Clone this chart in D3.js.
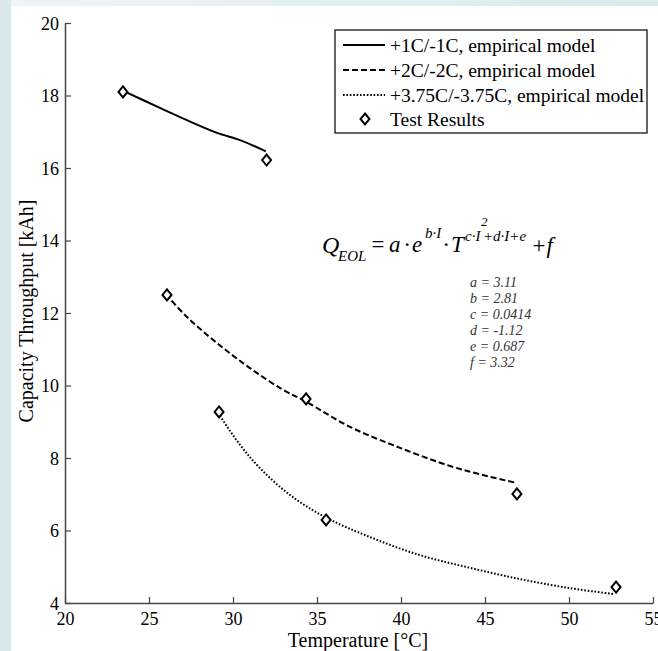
<!DOCTYPE html>
<html><head><meta charset="utf-8">
<script src="https://cdn.jsdelivr.net/npm/d3@7"></script>
<style>
html,body{margin:0;padding:0;background:#fff;}
svg{display:block;}
text{font-family:"Liberation Serif","Times New Roman",serif;}
</style></head>
<body>
<svg id="chart" width="658" height="651"></svg>
<script>
// ---- data ----
const xTicks = [20,25,30,35,40,45,50,55];
const yTicks = [4,6,8,10,12,14,16,18,20];
const model1C = [[23.5,18.12],[25.65,17.66],[27.26,17.32],[29.05,16.97],[30.42,16.77],[31.95,16.46]];
const model2C = [[26.0,12.52],[27.26,11.89],[29.05,11.17],[31.01,10.48],[32.98,9.88],[34.29,9.57],[36.96,8.86],[39.94,8.28],[42.92,7.78],[44.88,7.53],[46.9,7.31]];
const model375C = [[29.11,9.24],[30.42,8.36],[31.61,7.72],[33.39,6.98],[35.48,6.37],[38.15,5.82],[41.13,5.32],[44.11,4.97],[47.08,4.66],[50.06,4.41],[52.62,4.25]];
const testTemps = [23.45,32.0,26.07,34.35,46.9,29.17,35.54,52.8];
const testValues = [18.1,16.22,12.5,9.63,7.01,9.27,6.29,4.44];
const legendLabels = ["+1C/-1C, empirical model","+2C/-2C, empirical model","+3.75C/-3.75C, empirical model","Test Results"];
const paramLabels = ["a = 3.11","b = 2.81","c = 0.0414","d = -1.12","e = 0.687","f = 3.32"];
const xTitle = "Temperature [°C]";
const yTitle = "Capacity Throughput [kAh]";

const svg = d3.select("#chart");
// background decoration
const defs = svg.append("defs");
const g1 = defs.append("linearGradient").attr("id","topg").attr("x1","0").attr("x2","1");
g1.append("stop").attr("offset","0").attr("stop-color","#eef5f7");
g1.append("stop").attr("offset","1").attr("stop-color","#d9e9ee");
svg.append("rect").attr("x",0).attr("y",0).attr("width",658).attr("height",651).attr("fill","#fff");
svg.append("rect").attr("x",0).attr("y",0).attr("width",658).attr("height",6).attr("fill","url(#topg)");
svg.append("rect").attr("x",0).attr("y",0).attr("width",11).attr("height",651).attr("fill","#d9e9ee");

const x = d3.scaleLinear().domain([20,55]).range([65,653]);
const y = d3.scaleLinear().domain([4,20]).range([603,23]);

const axisColor = "#444";
const xAxis = svg.append("g").attr("transform","translate(0,603)")
  .call(d3.axisBottom(x).tickValues(xTicks).tickSizeInner(-6).tickSizeOuter(0).tickPadding(6).tickFormat(d3.format("d")));
const yAxis = svg.append("g").attr("transform","translate(65,0)")
  .call(d3.axisLeft(y).tickValues(yTicks).tickSizeInner(-6).tickSizeOuter(0).tickPadding(6).tickFormat(d3.format("d")));
[xAxis,yAxis].forEach(a=>{
  a.select(".domain").attr("stroke",axisColor).attr("stroke-width",1.5);
  a.selectAll(".tick line").attr("stroke",axisColor).attr("stroke-width",1.2);
  a.selectAll(".tick text").attr("fill","#000").style("font-size","18px").style("font-family","'Liberation Serif',serif");
});
xAxis.selectAll(".tick text").attr("dy","0.9em");
yAxis.selectAll(".tick text").attr("dy","0.35em");

// axis titles
svg.append("text").attr("x",358).attr("y",647).attr("text-anchor","middle")
  .style("font-size","20px").text(xTitle);
svg.append("text").attr("transform","translate(33,311) rotate(-90)").attr("text-anchor","middle")
  .style("font-size","20px").text(yTitle);

// model lines
const line = d3.line().x(d=>x(d[0])).y(d=>y(d[1])).curve(d3.curveCatmullRom);
const styles = [
  {data:model1C, dash:null, w:2},
  {data:model2C, dash:"6,3", w:2},
  {data:model375C, dash:"1.6,1.8", w:2}
];
styles.forEach(s=>{
  svg.append("path").datum(s.data).attr("d",line).attr("fill","none")
    .attr("stroke","#000").attr("stroke-width",s.w).attr("stroke-dasharray",s.dash);
});

// diamonds
const diamond = (cx,cy)=>`M${cx},${cy-5.5}L${cx+4.5},${cy}L${cx},${cy+5.5}L${cx-4.5},${cy}Z`;
svg.append("g").selectAll("path").data(testTemps.map((t,i)=>[t,testValues[i]])).join("path")
  .attr("d",d=>diamond(x(d[0]),y(d[1]))).attr("fill","#fff").attr("stroke","#000").attr("stroke-width",2);

// legend
const lg = svg.append("g");
lg.append("rect").attr("x",335).attr("y",30).attr("width",312).attr("height",103)
  .attr("fill","#fff").attr("stroke","#000").attr("stroke-width",1.2);
const rowsY = [45,70,95,119];
legendLabels.forEach((lab,i)=>{
  if(i<3){
    lg.append("line").attr("x1",343).attr("x2",385).attr("y1",rowsY[i]).attr("y2",rowsY[i])
      .attr("stroke","#000").attr("stroke-width",2).attr("stroke-dasharray",styles[i].dash);
  } else {
    lg.append("path").attr("d",diamond(365,rowsY[i])).attr("fill","#fff").attr("stroke","#000").attr("stroke-width",2);
  }
  lg.append("text").attr("x",390).attr("y",rowsY[i]).attr("dy","0.35em")
    .style("font-size","19.5px").text(lab);
});

// equation
const eqParts = [
  {t:"Q", x:322, y:253, s:24},
  {t:"EOL", x:338, y:261, s:15},
  {t:"=", x:370, y:252, s:23},
  {t:"a", x:389, y:252, s:23},
  {t:"·", x:404, y:252, s:23},
  {t:"e", x:412, y:252, s:23},
  {t:"b·I", x:425, y:238, s:15},
  {t:"·", x:443, y:252, s:23},
  {t:"T", x:451, y:252, s:23},
  {t:"c·I", x:465, y:241, s:15},
  {t:"2", x:481, y:226, s:13},
  {t:"+d·I+e", x:483, y:241, s:15},
  {t:"+f", x:531, y:253, s:23}
];
svg.append("g").selectAll("text").data(eqParts).join("text")
  .attr("x",d=>d.x).attr("y",d=>d.y).style("font-style","italic")
  .style("font-size",d=>d.s+"px").text(d=>d.t);

// parameters
svg.append("g").selectAll("text").data(paramLabels).join("text")
  .attr("x",470).attr("y",(d,i)=>287+16*i)
  .style("font-style","italic").style("font-size","14px").attr("fill","#333").text(d=>d);
</script>
</body></html>
